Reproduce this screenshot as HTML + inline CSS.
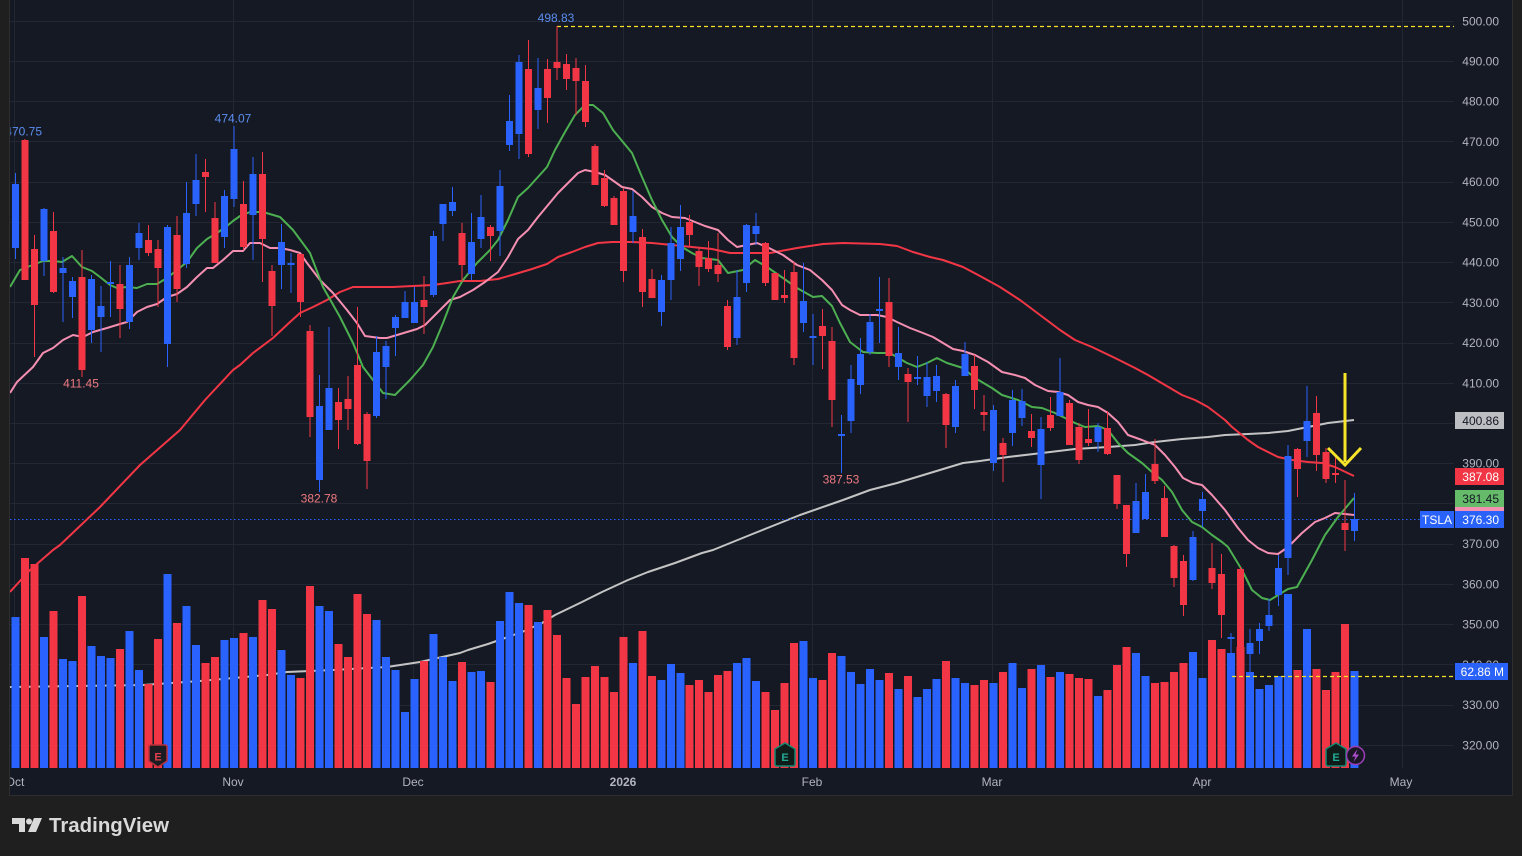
<!DOCTYPE html>
<html><head><meta charset="utf-8"><style>
html,body{margin:0;padding:0;background:#1f1f1f;width:1522px;height:856px;overflow:hidden}
svg{display:block}
text{font-family:"Liberation Sans",Arial,sans-serif}
</style></head><body>
<svg width="1522" height="856" viewBox="0 0 1522 856" xmlns="http://www.w3.org/2000/svg">
<defs><clipPath id="pc"><rect x="10" y="0" width="1444" height="768"/></clipPath>
<clipPath id="ca"><rect x="10" y="0" width="1502" height="795"/></clipPath></defs>
<rect width="1522" height="856" fill="#1f1f1f"/>
<rect x="10" y="0" width="1502" height="795" fill="#151924"/>
<path d="M9.5 0V795.5H1512.5V0" fill="none" stroke="#2e2e2e" stroke-width="1"/>
<!-- grid -->
<path d="M10 21.5H1454M10 61.5H1454M10 101.5H1454M10 141.5H1454M10 182.5H1454M10 222.5H1454M10 262.5H1454M10 302.5H1454M10 343.5H1454M10 383.5H1454M10 423.5H1454M10 463.5H1454M10 503.5H1454M10 544.5H1454M10 584.5H1454M10 624.5H1454M10 664.5H1454M10 705.5H1454M10 745.5H1454M14.5 0V768M233.5 0V768M413.5 0V768M623.5 0V768M812.5 0V768M992.5 0V768M1202.5 0V768M1402.5 0V768" stroke="#232733" stroke-width="1" fill="none"/>
<g clip-path="url(#pc)">
<!-- 200 MA (behind volume) -->
<polyline fill="none" stroke="#c4c4c4" stroke-width="2" stroke-linejoin="round" points="10,687 143,685 200,681 267,675 287,672 333,670 387,667 420,662 460,653 468,650 488,644 505,638 522,632 542,623 555,615 582,602 602,592 628,580 648,572 675,563 702,553 713,550 750,535 800,515 843,500 870,490 897,483 930,473 963,463 980,461 1008,457 1042,453 1075,449 1108,447 1135,445 1155,442 1182,439 1208,437 1225,435 1248,434 1268,433 1288,431 1308,427 1328,423 1354,420"/>
<!-- volume -->
<path fill="#2962ff" d="M11.5 617h8V768h-8zM40 637h8V768h-8zM59 659h8V768h-8zM68.5 661h8V768h-8zM87.5 646h8V768h-8zM97 656h8V768h-8zM106.5 658h8V768h-8zM125.5 631h8V768h-8zM135 670h8V768h-8zM163.5 574h8V768h-8zM182.5 606h8V768h-8zM192 645h8V768h-8zM220.5 640h8V768h-8zM230 638h8V768h-8zM249 637h8V768h-8zM277.5 650h8V768h-8zM287 675h8V768h-8zM315.5 606h8V768h-8zM325 611h8V768h-8zM372.5 620h8V768h-8zM382 657h8V768h-8zM391.5 670h8V768h-8zM401 712h8V768h-8zM410.5 679h8V768h-8zM429.5 634h8V768h-8zM439 657h8V768h-8zM448.5 681h8V768h-8zM467.5 672h8V768h-8zM477 671h8V768h-8zM496 621h8V768h-8zM505.5 592h8V768h-8zM515 603h8V768h-8zM534 622h8V768h-8zM629 663h8V768h-8zM657.5 680h8V768h-8zM667 664h8V768h-8zM676.5 673h8V768h-8zM733 663h8V768h-8zM742.5 658h8V768h-8zM752 681h8V768h-8zM799.5 641h8V768h-8zM809 678h8V768h-8zM837.5 656h8V768h-8zM847 672h8V768h-8zM856.5 684h8V768h-8zM866 669h8V768h-8zM875.5 680h8V768h-8zM894.5 689h8V768h-8zM913.5 697h8V768h-8zM923 689h8V768h-8zM932.5 679h8V768h-8zM951.5 678h8V768h-8zM961 683h8V768h-8zM989.5 683h8V768h-8zM1008.5 663h8V768h-8zM1018 688h8V768h-8zM1037 665h8V768h-8zM1056 672h8V768h-8zM1094 696h8V768h-8zM1132 653h8V768h-8zM1141.5 676h8V768h-8zM1189 652h8V768h-8zM1198.5 678h8V768h-8zM1227 653h8V768h-8zM1246 672h8V768h-8zM1255.5 689h8V768h-8zM1265 685h8V768h-8zM1274.5 676h8V768h-8zM1284 594h8V768h-8zM1303 629h8V768h-8zM1350.5 671h8V768h-8z"/>
<path fill="#f23645" d="M21 558h8V768h-8zM30.5 564h8V768h-8zM49.5 611h8V768h-8zM78 596h8V768h-8zM116 649h8V768h-8zM144.5 684h8V768h-8zM154 639h8V768h-8zM173 623h8V768h-8zM201.5 663h8V768h-8zM211 657h8V768h-8zM239.5 633h8V768h-8zM258.5 600h8V768h-8zM268 609h8V768h-8zM296.5 678h8V768h-8zM306 586h8V768h-8zM334.5 644h8V768h-8zM344 657h8V768h-8zM353.5 594h8V768h-8zM363 614h8V768h-8zM420 661h8V768h-8zM458 662h8V768h-8zM486.5 682h8V768h-8zM524.5 605h8V768h-8zM543.5 610h8V768h-8zM553 635h8V768h-8zM562.5 678h8V768h-8zM572 704h8V768h-8zM581.5 677h8V768h-8zM591 666h8V768h-8zM600.5 677h8V768h-8zM610 692h8V768h-8zM619.5 637h8V768h-8zM638.5 631h8V768h-8zM648 676h8V768h-8zM685.5 685h8V768h-8zM695 680h8V768h-8zM704.5 692h8V768h-8zM714 675h8V768h-8zM723.5 671h8V768h-8zM761.5 692h8V768h-8zM771 710h8V768h-8zM780.5 683h8V768h-8zM790 643h8V768h-8zM818.5 680h8V768h-8zM828 653h8V768h-8zM885 673h8V768h-8zM904 676h8V768h-8zM942 661h8V768h-8zM970.5 685h8V768h-8zM980 680h8V768h-8zM999 672h8V768h-8zM1027.5 669h8V768h-8zM1046.5 677h8V768h-8zM1065.5 674h8V768h-8zM1075 678h8V768h-8zM1084.5 679h8V768h-8zM1103.5 690h8V768h-8zM1113 665h8V768h-8zM1122.5 647h8V768h-8zM1151 683h8V768h-8zM1160.5 682h8V768h-8zM1170 672h8V768h-8zM1179.5 663h8V768h-8zM1208 640h8V768h-8zM1217.5 649h8V768h-8zM1236.5 647h8V768h-8zM1293.5 670h8V768h-8zM1312.5 669h8V768h-8zM1322 690h8V768h-8zM1331.5 672h8V768h-8zM1341 624h8V768h-8z"/>
<!-- dashed lines -->
<path d="M1232 676.5H1454" stroke="#f5e12a" stroke-width="1.2" stroke-dasharray="4 3"/>
<path d="M557 26.5H1454" stroke="#f5e12a" stroke-width="1.2" stroke-dasharray="4 3"/>
<path d="M10 519.5H1420" stroke="#2962ff" stroke-width="1" stroke-dasharray="1.5 2.5"/>
<!-- 50 MA -->
<polyline fill="none" stroke="#f23645" stroke-width="2" stroke-linejoin="round" points="10,592 30,570 53,550 60,545 100,507 140,465 180,430 205,400 233,370 240,365 253,353 273,338 290,322 300,313 313,307 327,300 340,292 353,287 373,287 393,287 413,286 433,285 447,283 460,281 480,281 498,279 512,275 532,269 547,264 558,257 572,252 585,247 598,243 612,242 632,242 652,243 672,245 692,247 712,249 730,253 770,253 797,248 823,244 843,243 880,244 897,246 913,252 930,257 943,260 963,267 980,276 1000,287 1020,300 1040,315 1060,330 1075,340 1092,347 1115,358 1135,368 1148,375 1165,385 1182,395 1195,400 1208,407 1225,420 1232,427 1248,440 1258,447 1278,457 1292,460 1308,462 1322,463 1335,467 1354,476"/>
<!-- 20 MA -->
<polyline fill="none" stroke="#f48fb1" stroke-width="2" stroke-linejoin="round" points="10,393 17,382 33,367 43,353 53,348 63,340 73,335 83,337 93,332 107,328 120,324 127,322 137,312 147,307 157,304 167,297 177,294 187,287 197,277 207,268 213,268 223,260 233,251 243,251 250,243 260,243 270,248 280,248 290,250 300,253 307,263 320,280 333,293 347,310 357,323 365,336 380,338 387,338 397,335 407,332 417,329 425,325 437,313 450,300 460,297 473,290 485,282 498,272 508,257 518,239 528,230 538,217 548,205 558,193 568,183 578,173 585,170 595,172 605,175 615,182 622,187 632,189 642,197 652,207 662,213 672,217 685,218 695,222 705,226 718,230 728,240 737,247 747,245 757,243 767,247 783,255 797,265 810,270 822,280 832,290 842,305 850,310 860,315 877,315 887,317 897,322 910,328 923,333 933,337 943,343 953,349 963,351 975,355 988,362 1002,372 1015,375 1025,378 1035,385 1048,391 1058,392 1068,395 1078,402 1088,405 1098,407 1108,413 1118,422 1128,435 1142,440 1155,445 1165,455 1175,467 1183,478 1193,483 1202,485 1212,495 1225,510 1238,528 1248,540 1258,548 1268,553 1278,554 1288,547 1302,533 1315,522 1325,518 1335,513 1345,514 1354,515"/>
<!-- 10 MA -->
<polyline fill="none" stroke="#4caf50" stroke-width="2" stroke-linejoin="round" points="10,287 20,270 30,266 43,261 53,261 62,262 72,256 82,267 92,271 100,277 110,285 117,288 127,287 137,288 147,284 157,284 167,278 177,270 187,262 197,248 207,239 217,233 227,226 233,221 240,216 250,212 263,212 280,217 293,230 310,253 323,287 340,317 353,343 363,367 373,380 383,393 395,395 410,380 423,365 433,347 443,323 453,297 463,280 477,263 490,250 498,240 508,220 518,197 528,188 547,167 555,150 565,132 575,115 585,105 593,105 603,113 613,130 632,153 642,177 652,200 662,220 672,237 682,247 692,253 702,258 718,260 728,273 743,270 755,260 767,267 783,278 797,288 813,297 822,296 832,306 840,323 850,342 863,352 877,353 890,353 907,363 917,367 927,363 937,358 947,363 963,368 975,378 992,388 1002,395 1018,400 1032,407 1042,408 1055,413 1065,418 1075,423 1085,427 1098,426 1108,430 1118,443 1128,453 1142,463 1152,472 1162,480 1172,492 1182,510 1192,522 1202,527 1212,535 1222,542 1228,547 1242,570 1252,590 1262,598 1270,600 1288,589 1297,587 1312,560 1325,535 1338,517 1354,498"/>
<!-- candles blue -->
<path stroke="#2962ff" stroke-width="1" fill="none" d="M15.5 173V259M44 208V276M63 257V322M72.5 277V318M91.5 275V343M101 286V352M110.5 261V317M129.5 257V329M139 223V260M167.5 225V367M186.5 182V268M196 154V216M224.5 190V248M234 126V207M253 157V260M281.5 224V289M291 253V293M319.5 375V492M329 327V430M376.5 336V418M386 341V399M395.5 315V356M405 291V318M414.5 287V323M433.5 231V297M443 204V241M452.5 187V216M471.5 213V280M481 195V248M500 170V256M509.5 95V151M519 55V159M538 58V129M633 191V243M661.5 275V326M671 227V300M680.5 205V271M737 270V345M746.5 224V292M756 213V245M803.5 263V332M813 314V365M841.5 415V473M851 365V433M860.5 338V394M870 314V355M879.5 277V343M898.5 327V380M917.5 356V385M927 362V407M936.5 365V402M955.5 380V433M965 342V376M993.5 405V471M1012.5 390V446M1022 389V426M1041 417V499M1060 358V416M1098 423V452M1136 483V533M1145.5 474V519M1193 531V581M1202.5 492V527M1231 633V653M1250 629V672M1259.5 623V654M1269 599V631M1278.5 555V606M1288 445V575M1307 386V457M1354.5 493V541"/>
<path fill="#2962ff" d="M12 184h7V248h-7zM40.5 209h7V261h-7zM59.5 268h7V273h-7zM69 281h7V297h-7zM88 279h7V330h-7zM97.5 306h7V317h-7zM107 282h7V284h-7zM126 265h7V322h-7zM135.5 233h7V248h-7zM164 227h7V344h-7zM183 213h7V264h-7zM192.5 180h7V204h-7zM221 196h7V237h-7zM230.5 149h7V199h-7zM249.5 174h7V215h-7zM278 242h7V265h-7zM287.5 263h7V265h-7zM316 406h7V480h-7zM325.5 388h7V430h-7zM373 352h7V416h-7zM382.5 346h7V367h-7zM392 317h7V328h-7zM401.5 302h7V318h-7zM411 302h7V323h-7zM430 236h7V295h-7zM439.5 204h7V224h-7zM449 202h7V211h-7zM468 242h7V274h-7zM477.5 217h7V239h-7zM496.5 186h7V231h-7zM506 121h7V145h-7zM515.5 62h7V134h-7zM534.5 88h7V110h-7zM629.5 216h7V232h-7zM658 280h7V312h-7zM667.5 243h7V280h-7zM677 227h7V259h-7zM733.5 297h7V338h-7zM743 225h7V283h-7zM752.5 226h7V234h-7zM800 301h7V323h-7zM809.5 336h7V338h-7zM838 434h7V436h-7zM847.5 379h7V421h-7zM857 354h7V385h-7zM866.5 322h7V352h-7zM876 309h7V311h-7zM895 353h7V367h-7zM914 377h7V379h-7zM923.5 377h7V396h-7zM933 376h7V391h-7zM952 386h7V427h-7zM961.5 354h7V376h-7zM990 410h7V463h-7zM1009 400h7V433h-7zM1018.5 401h7V418h-7zM1037.5 429h7V465h-7zM1056.5 392h7V416h-7zM1094.5 427h7V442h-7zM1132.5 501h7V533h-7zM1142 492h7V519h-7zM1189.5 537h7V580h-7zM1199 499h7V511h-7zM1227.5 637h7V639h-7zM1246.5 643h7V654h-7zM1256 629h7V641h-7zM1265.5 615h7V626h-7zM1275 568h7V595h-7zM1284.5 456h7V558h-7zM1303.5 421h7V441h-7zM1351 519h7V531h-7z"/>
<!-- candles red -->
<path stroke="#f23645" stroke-width="1" fill="none" d="M25 139V280M34.5 235V357M53.5 212V293M82 250V377M120 265V338M148.5 225V256M158 240V307M177 216V302M205.5 159V212M215 202V263M243.5 181V250M262.5 152V282M272 265V336M300.5 254V317M310 325V437M338.5 388V449M348 376V430M357.5 307V445M367 412V489M424 276V334M462 223V282M490.5 225V261M528.5 40V157M547.5 59V123M557 26V80M566.5 54V90M576 58V115M585.5 65V127M595 144V185M604.5 170V207M614 196V225M623.5 188V282M642.5 229V307M652 269V298M689.5 215V247M699 247V286M708.5 241V272M718 233V282M727.5 300V350M765.5 242V286M775 273V300M784.5 270V303M794 262V365M822.5 309V369M832 327V427M889 278V367M908 368V422M946 393V448M974.5 355V409M984 395V431M1003 438V482M1031.5 414V447M1050.5 397V431M1069.5 400V445M1079 423V464M1088.5 409V446M1107.5 411V455M1117 475V509M1126.5 505V567M1155 439V484M1164.5 486V537M1174 545V587M1183.5 555V616M1212 543V589M1221.5 554V638M1240.5 567V655M1297.5 448V497M1316.5 396V471M1326 448V483M1335.5 454V483M1345 480V551"/>
<path fill="#f23645" d="M21.5 140h7V280h-7zM31 249h7V305h-7zM50 231h7V292h-7zM78.5 277h7V370h-7zM116.5 284h7V309h-7zM145 240h7V253h-7zM154.5 249h7V268h-7zM173.5 235h7V289h-7zM202 172h7V177h-7zM211.5 218h7V263h-7zM240 204h7V247h-7zM259 174h7V239h-7zM268.5 271h7V306h-7zM297 254h7V302h-7zM306.5 331h7V417h-7zM335 402h7V420h-7zM344.5 399h7V409h-7zM354 365h7V444h-7zM363.5 414h7V461h-7zM420.5 300h7V307h-7zM458.5 233h7V265h-7zM487 227h7V236h-7zM525 69h7V154h-7zM544 69h7V98h-7zM553.5 62h7V68h-7zM563 64h7V79h-7zM572.5 68h7V81h-7zM582 81h7V122h-7zM591.5 146h7V185h-7zM601 178h7V206h-7zM610.5 198h7V225h-7zM620 191h7V271h-7zM639 237h7V292h-7zM648.5 279h7V298h-7zM686 222h7V235h-7zM695.5 251h7V267h-7zM705 258h7V269h-7zM714.5 265h7V274h-7zM724 306h7V347h-7zM762 243h7V283h-7zM771.5 273h7V300h-7zM781 295h7V298h-7zM790.5 272h7V358h-7zM819 326h7V336h-7zM828.5 341h7V400h-7zM885.5 302h7V356h-7zM904.5 374h7V382h-7zM942.5 394h7V425h-7zM971 366h7V390h-7zM980.5 412h7V415h-7zM999.5 443h7V455h-7zM1028 431h7V438h-7zM1047 415h7V428h-7zM1066 403h7V445h-7zM1075.5 427h7V460h-7zM1085 439h7V443h-7zM1104 428h7V454h-7zM1113.5 475h7V504h-7zM1123 505h7V554h-7zM1151.5 464h7V481h-7zM1161 498h7V537h-7zM1170.5 546h7V578h-7zM1180 561h7V605h-7zM1208.5 568h7V583h-7zM1218 574h7V615h-7zM1237 569h7V652h-7zM1294 449h7V469h-7zM1313 413h7V455h-7zM1322.5 452h7V479h-7zM1332 473h7V475h-7zM1341.5 523h7V530h-7z"/>
<!-- yellow arrow -->
<path d="M1345 373V462" stroke="#f7e52a" stroke-width="3" fill="none"/>
<polyline points="1328,448 1345,465 1361,448" stroke="#f7e52a" stroke-width="3" fill="none" stroke-linejoin="miter"/>
<!-- hi/lo labels -->
<g font-size="12">
<text x="42" y="135.5" text-anchor="end" fill="#5b8def">470.75</text>
<text x="233" y="122.5" text-anchor="middle" fill="#5b8def">474.07</text>
<text x="556" y="22" text-anchor="middle" fill="#5b8def">498.83</text>
<text x="81" y="387.5" text-anchor="middle" fill="#ef7a80">411.45</text>
<text x="319" y="502.5" text-anchor="middle" fill="#ef7a80">382.78</text>
<text x="841" y="483.5" text-anchor="middle" fill="#ef7a80">387.53</text>
</g>
<!-- earnings markers -->
<path d="M149 747Q149 745 151 745H165Q167 745 167 747V761L158 767L149 761Z" fill="#1b1c21" stroke="#b8303b" stroke-width="1.5"/>
<text x="158" y="760.5" text-anchor="middle" font-size="11" font-weight="bold" fill="#e0414d">E</text>
<path d="M785 743L795 749V764Q795 766 793 766H777Q775 766 775 764V749Z" fill="#0f1c19" stroke="#138a72" stroke-width="1.5"/>
<text x="785" y="761" text-anchor="middle" font-size="11" font-weight="bold" fill="#22ab94">E</text>
<path d="M1336 743L1346 749V764Q1346 766 1344 766H1328Q1326 766 1326 764V749Z" fill="#0f1c19" stroke="#138a72" stroke-width="1.5"/>
<text x="1336" y="761" text-anchor="middle" font-size="11" font-weight="bold" fill="#22ab94">E</text>
<circle cx="1355.5" cy="755.5" r="9" fill="#1b1626" stroke="#9c3fb8" stroke-width="1.5"/>
<path d="M1357.5 749L1352 756.5H1355.5L1353.5 762L1359 754.5H1355.5Z" fill="#b04fd0"/>
</g>
<!-- price axis labels -->
<g font-size="12" fill="#b2b5be" text-anchor="end">
<text x="1499" y="25.3">500.00</text>
<text x="1499" y="65.5">490.00</text>
<text x="1499" y="105.7">480.00</text>
<text x="1499" y="146">470.00</text>
<text x="1499" y="186.2">460.00</text>
<text x="1499" y="226.4">450.00</text>
<text x="1499" y="266.6">440.00</text>
<text x="1499" y="306.9">430.00</text>
<text x="1499" y="347.1">420.00</text>
<text x="1499" y="387.3">410.00</text>
<text x="1499" y="427.5">400.00</text>
<text x="1499" y="467.7">390.00</text>
<text x="1499" y="508">380.00</text>
<text x="1499" y="548.2">370.00</text>
<text x="1499" y="588.4">360.00</text>
<text x="1499" y="628.6">350.00</text>
<text x="1499" y="668.9">340.00</text>
<text x="1499" y="709.1">330.00</text>
<text x="1499" y="749.3">320.00</text>
</g>
<!-- value boxes -->
<rect x="1455" y="412" width="49" height="17" fill="#bdbec2"/>
<text x="1499" y="425" font-size="12" text-anchor="end" fill="#131722">400.86</text>
<rect x="1455" y="468" width="49" height="17" fill="#f23645"/>
<text x="1499" y="481" font-size="12" text-anchor="end" fill="#ffffff">387.08</text>
<rect x="1455" y="490" width="49" height="17" fill="#66bb6a"/>
<text x="1499" y="503" font-size="12" text-anchor="end" fill="#131722">381.45</text>
<rect x="1455" y="507" width="49" height="4" fill="#f48fb1"/>
<rect x="1420" y="511" width="34" height="17" fill="#2962ff"/>
<text x="1437" y="524" font-size="12" text-anchor="middle" fill="#ffffff">TSLA</text>
<rect x="1455" y="511" width="49" height="17" fill="#2962ff"/>
<text x="1499" y="524" font-size="12" text-anchor="end" fill="#ffffff">376.30</text>
<rect x="1455" y="663" width="53" height="17" fill="#2962ff"/>
<text x="1504" y="676" font-size="12" text-anchor="end" fill="#ffffff">62.86 M</text>
<!-- time axis -->
<g font-size="12" fill="#b2b5be" text-anchor="middle" clip-path="url(#ca)">
<text x="15" y="786">Oct</text>
<text x="233" y="786">Nov</text>
<text x="413" y="786">Dec</text>
<text x="623" y="786" font-weight="bold">2026</text>
<text x="812" y="786">Feb</text>
<text x="992" y="786">Mar</text>
<text x="1202" y="786">Apr</text>
<text x="1401" y="786">May</text>
</g>
<!-- logo -->
<path d="M12 818H25V832H19V824H12Z" fill="#d9d9d9"/>
<circle cx="29" cy="821.5" r="3" fill="#d9d9d9"/>
<path d="M34 818H42L36 832H28Z" fill="#d9d9d9"/>
<text x="49" y="832" font-size="20" font-weight="bold" fill="#d9d9d9" textLength="120" lengthAdjust="spacingAndGlyphs">TradingView</text>
</svg>
</body></html>
